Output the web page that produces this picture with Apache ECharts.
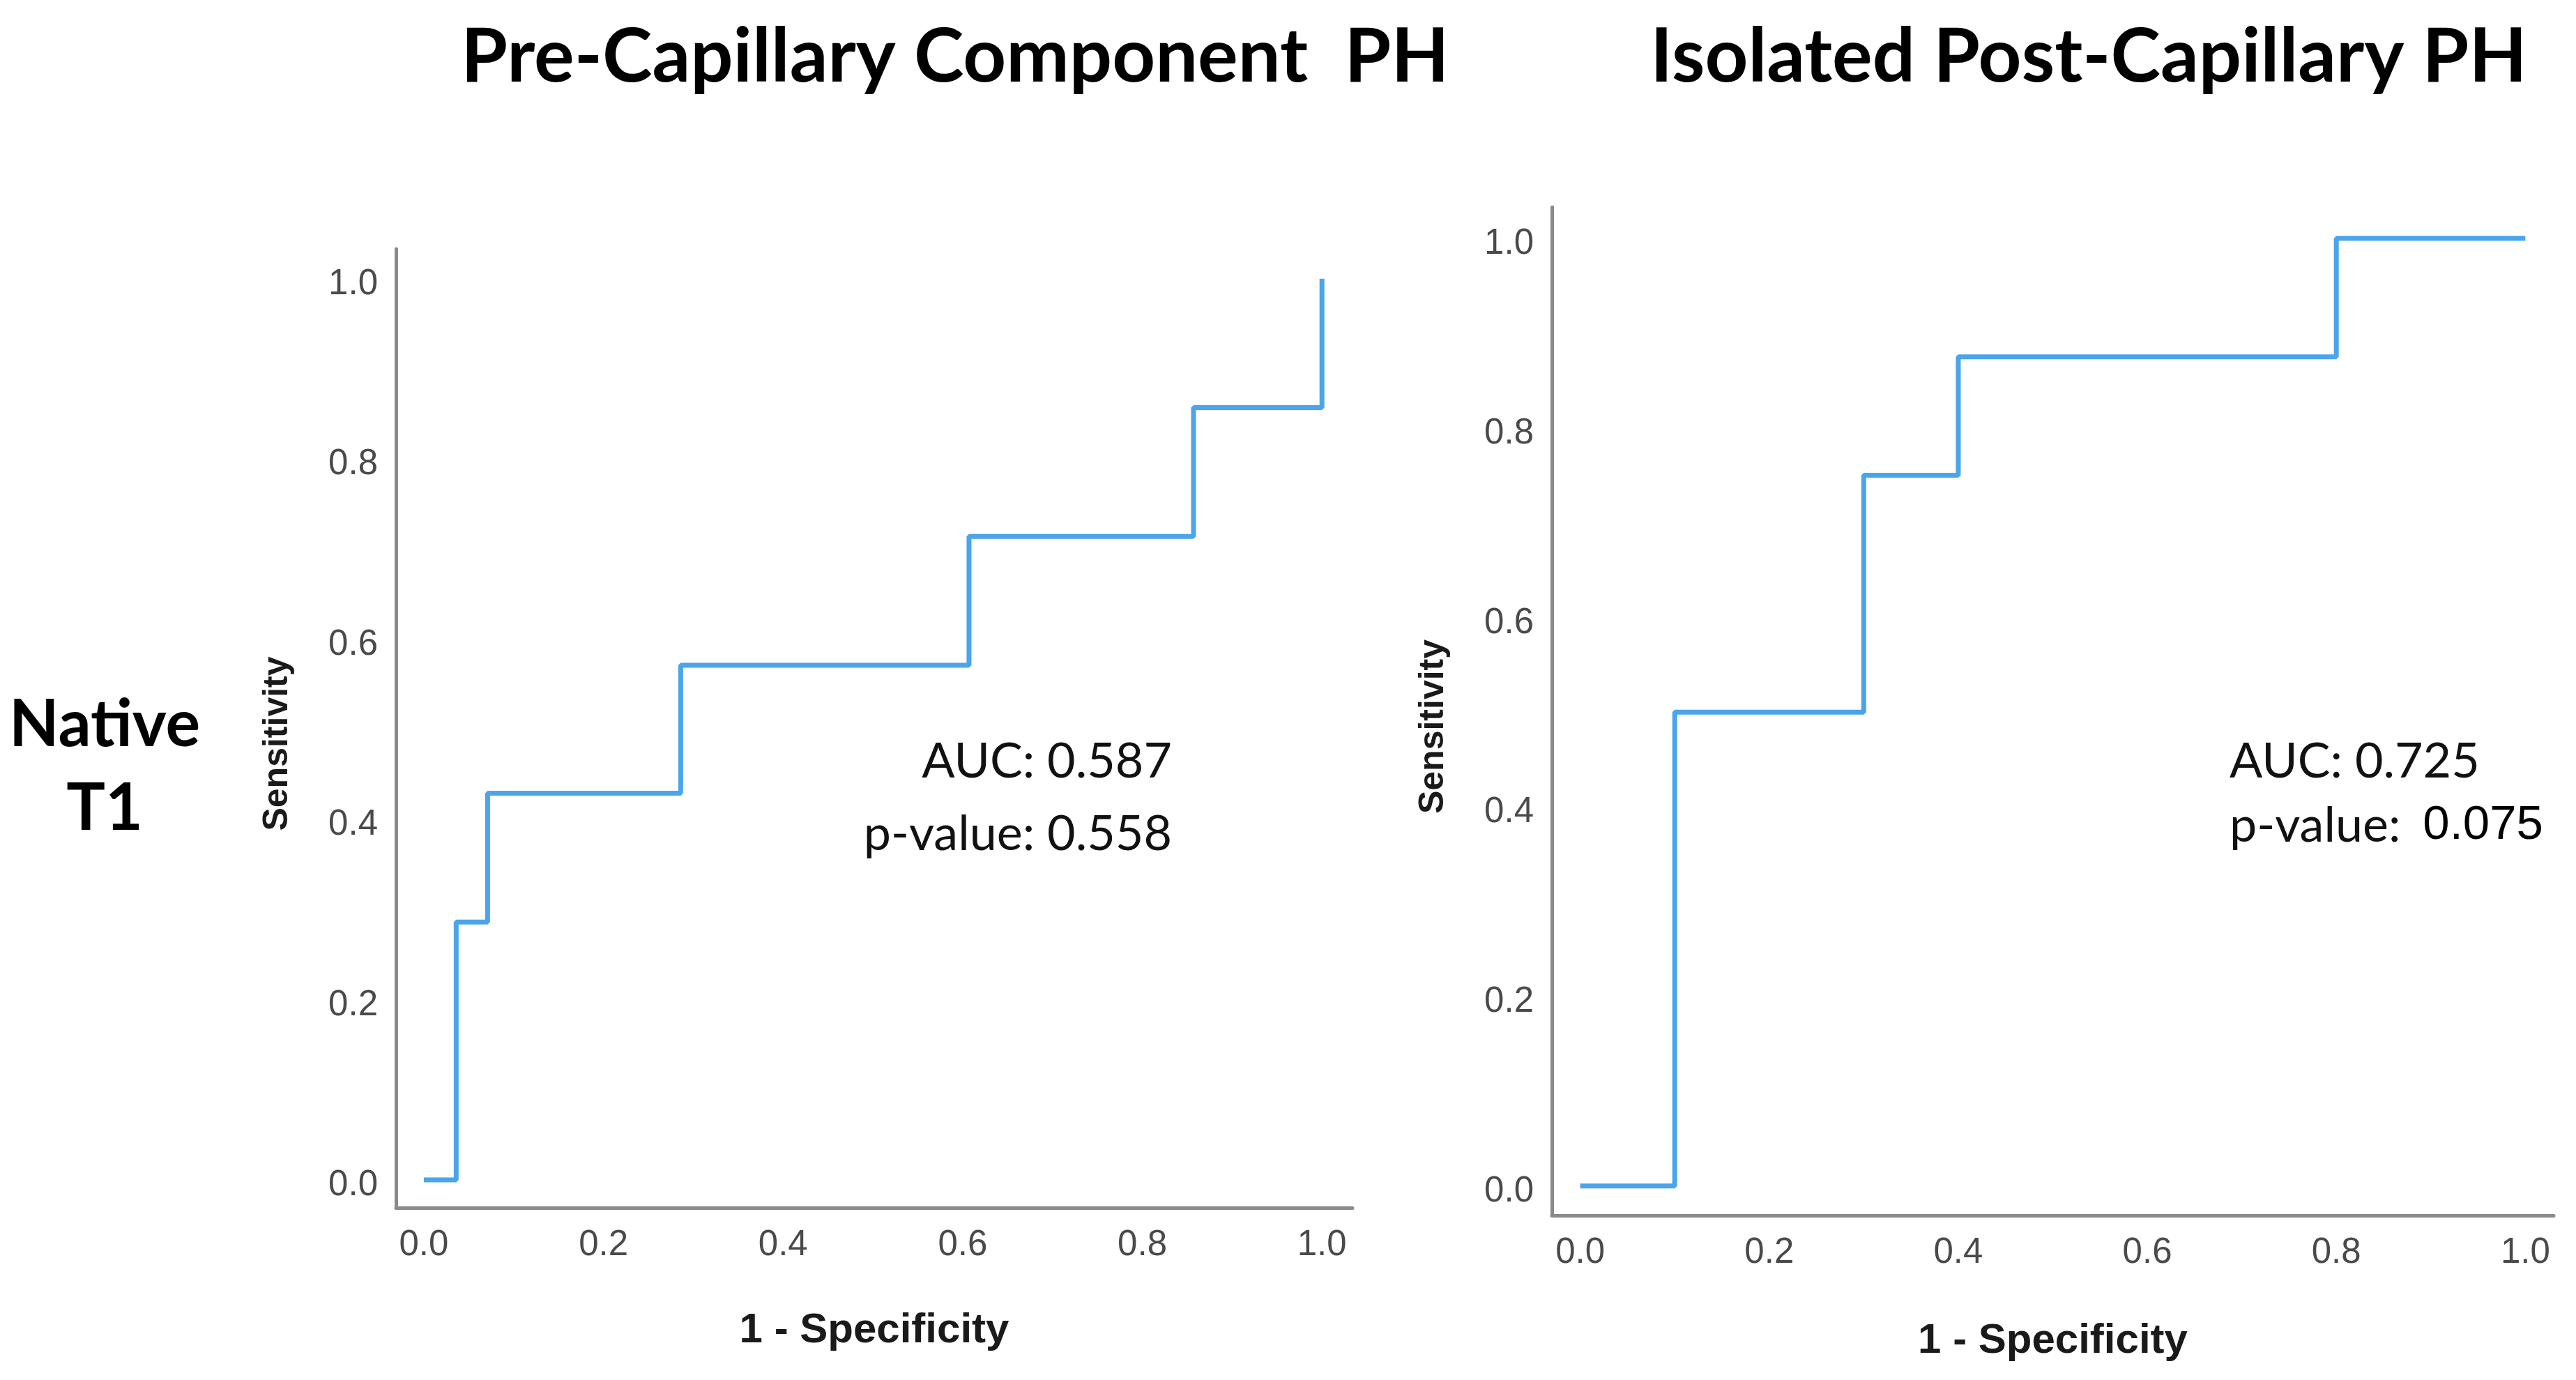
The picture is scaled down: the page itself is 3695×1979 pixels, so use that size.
<!DOCTYPE html>
<html>
<head>
<meta charset="utf-8">
<script src="https://cdn.jsdelivr.net/npm/echarts@6/dist/echarts.min.js"></script>
<style>
  html, body { margin: 0; padding: 0; background: #ffffff; }
  #chart { width: 3695px; height: 1979px; }
</style>
</head>
<body>
<div id="chart"></div>
<script>
// ---- Data ----
const panelTitles = ['Pre-Capillary Component  PH', 'Isolated Post-Capillary PH'];
const rowLabel = 'Native\nT1';
const tickValues = [0, 0.2, 0.4, 0.6, 0.8, 1.0];
const xAxisName = '1 - Specificity';
const yAxisName = 'Sensitivity';

// Pre-capillary component PH ROC (1 - specificity, sensitivity)
const preFpr = [0, 0.036, 0.071, 0.286, 0.607, 0.857, 1.0];
const preTpr = [0, 0.286, 0.429, 0.571, 0.714, 0.857, 1.0];
const preAuc = '0.587';
const preP = '0.558';

// Isolated post-capillary PH ROC
const postFpr = [0, 0.1, 0.3, 0.4, 0.8, 1.0];
const postTpr = [0, 0.5, 0.75, 0.875, 1.0, 1.0];
const postAuc = '0.725';
const postP = '0.075';

function zip(xs, ys) { return xs.map((x, i) => [x, ys[i]]); }

const chart = echarts.init(document.getElementById('chart'), null, { renderer: 'canvas' });

const arialFam = 'Liberation Sans, Arial, sans-serif';
const axisLineStyle = { show: true, onZero: false, lineStyle: { color: '#8a8a8a', width: 5 } };
function tickLabel(extra) {
  return Object.assign({
    customValues: tickValues,
    formatter: v => Number(v).toFixed(1),
    color: '#4a4a4a',
    fontSize: 51,
    fontFamily: arialFam
  }, extra);
}
const axisNameStyle = { color: '#1a1a1a', fontSize: 60, fontWeight: 'bold', fontFamily: arialFam };

function xAxisCfg(gridIndex, min, max, gap) {
  return {
    gridIndex, type: 'value', min, max,
    axisLine: axisLineStyle,
    axisTick: { show: false },
    splitLine: { show: false },
    axisLabel: tickLabel({ margin: 28 }),
    name: xAxisName, nameLocation: 'middle', nameGap: gap,
    nameTextStyle: axisNameStyle
  };
}
function yAxisCfg(gridIndex, min, max, gap) {
  return {
    gridIndex, type: 'value', min, max,
    axisLine: axisLineStyle,
    axisTick: { show: false },
    splitLine: { show: false },
    axisLabel: tickLabel({
      margin: 26,
      formatter: v => '{v|' + Number(v).toFixed(1) + '}',
      rich: { v: { color: '#4a4a4a', fontSize: 51, fontFamily: arialFam, padding: [16, 0, 0, 0] } }
    }),
    name: yAxisName, nameLocation: 'middle', nameGap: gap, nameRotate: 90,
    nameTextStyle: { fontSize: 50, padding: [0, 44, 0, 0], color: '#1a1a1a', fontWeight: 'bold', fontFamily: arialFam }
  };
}

const lineColor = '#4ba5ea';
const latoText = 'Lato, "Open Sans", sans-serif';

const option = {
  animation: false,
  backgroundColor: '#ffffff',
  grid: [
    { left: 568, top: 357, width: 1372, height: 1375 },
    { left: 2226, top: 297, width: 1437, height: 1446 }
  ],
  xAxis: [
    xAxisCfg(0, -0.031, 1.034, 146),
    xAxisCfg(1, -0.030, 1.030, 150)
  ],
  yAxis: [
    yAxisCfg(0, -0.031, 1.033, 145),
    yAxisCfg(1, -0.031, 1.033, 145)
  ],
  series: [
    {
      type: 'line', xAxisIndex: 0, yAxisIndex: 0, step: 'end',
      showSymbol: false, data: zip(preFpr, preTpr),
      lineStyle: { color: lineColor, width: 7, cap: 'butt' }
    },
    {
      type: 'line', xAxisIndex: 1, yAxisIndex: 1, step: 'end',
      showSymbol: false, data: zip(postFpr, postTpr),
      lineStyle: { color: lineColor, width: 7, cap: 'butt' }
    }
  ],
  graphic: [
    { type: 'text', x: 1370, y: 82, style: { text: panelTitles[0], align: 'center', verticalAlign: 'middle', fill: '#000', font: 'bold 108px ' + latoText } },
    { type: 'text', x: 2996, y: 82, style: { text: panelTitles[1], align: 'center', verticalAlign: 'middle', fill: '#000', font: 'bold 108px ' + latoText } },
    { type: 'text', x: 150, y: 1100, style: { text: rowLabel, align: 'center', verticalAlign: 'middle', fill: '#000', font: 'bold 93px ' + latoText, lineHeight: 120 } },
    { type: 'text', x: 1681, y: 1092, style: { text: 'AUC: ' + preAuc, align: 'right', verticalAlign: 'middle', fill: '#111', font: '70px ' + latoText } },
    { type: 'text', x: 1681, y: 1196, style: { text: 'p-value: ' + preP, align: 'right', verticalAlign: 'middle', fill: '#111', font: '70px ' + latoText } },
    { type: 'text', x: 3198, y: 1092, style: { text: 'AUC: ' + postAuc, align: 'left', verticalAlign: 'middle', fill: '#111', font: '70px ' + latoText } },
    { type: 'text', x: 3198, y: 1184, style: {
        text: '{a|p-value: }{b|' + postP + '}', align: 'left', verticalAlign: 'middle',
        rich: {
          a: { fontFamily: latoText, fontSize: 70, fill: '#111', color: '#111' },
          b: { fontFamily: arialFam, fontSize: 69, fill: '#000', color: '#000', padding: [0, 0, 0, 14] }
        }
      } }
  ]
};
chart.setOption(option);
</script>
</body>
</html>
